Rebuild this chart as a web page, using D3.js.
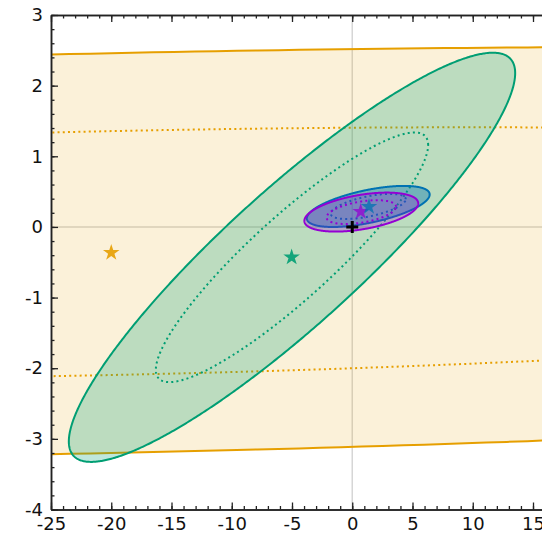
<!DOCTYPE html>
<html>
<head>
<meta charset="utf-8">
<script src="https://cdn.jsdelivr.net/npm/d3@7"></script>
<style>
  html, body { margin: 0; padding: 0; background: #fff; }
  svg { display: block; }
  .tick text { font-family: "DejaVu Sans", sans-serif; font-size: 18px; fill: #111; }
</style>
</head>
<body>
<svg id="chart" width="542" height="536"></svg>
<script>
// Gaussian constraints in the (x, y) plane: centre, widths and correlation
const fitNames = ["A", "B", "C", "D"];
const fitColors = ["#E69F00", "#009E73", "#0072B2", "#9400D3"];
const fillAlpha = [0.15, 0.25, 0.4, 0.25];
const centerX = [-20.0, -5.0, 1.33, 0.75];
const centerY = [-0.37, -0.43, 0.29, 0.21];
const sigmaX = [80.0, 7.45, 2.05, 1.90];
const sigmaY = [1.174, 1.165, 0.117, 0.111];
const corr = [0.245, 0.90, 0.58, 0.45];

// best-fit points (stars)
const bestX = [-20.0, -5.03, 1.39, 0.70];
const bestY = [-0.365, -0.43, 0.286, 0.215];

// reference point (+)
const refX = [0];
const refY = [0];

// delta chi^2 levels for 2 parameters: 68% (dotted) and 95% (solid)
const levels68 = 2.30;
const levels95 = 6.18;

// axis ticks
const xMajor = [-25, -20, -15, -10, -5, 0, 5, 10, 15];
const yMajor = [-4, -3, -2, -1, 0, 1, 2, 3];
const xMinor = d3.range(-25, 16.01, 1);
const yMinor = d3.range(-4, 3.001, 0.2).map(v => +v.toFixed(2));

const svg = d3.select("#chart");
const mLeft = 51, mTop = 15, mBottom = 509.5;
const pxPerX = 12.05;
const x = d3.scaleLinear().domain([-25, 16]).range([mLeft, mLeft + 41 * pxPerX]);
const y = d3.scaleLinear().domain([-4, 3]).range([mBottom, mTop]);

svg.append("defs").append("clipPath").attr("id", "plotClip")
  .append("rect")
  .attr("x", x(-25)).attr("y", y(3))
  .attr("width", x(16) - x(-25)).attr("height", y(-4) - y(3));

const plot = svg.append("g").attr("clip-path", "url(#plotClip)");

// zero lines
plot.append("line")
  .attr("x1", x(0)).attr("x2", x(0)).attr("y1", y(-4)).attr("y2", y(3))
  .attr("stroke", "#d6d6d6").attr("stroke-width", 1.5);
plot.append("line")
  .attr("x1", x(-25)).attr("x2", x(16)).attr("y1", y(0)).attr("y2", y(0))
  .attr("stroke", "#d6d6d6").attr("stroke-width", 1.5);

// contour of a correlated 2D Gaussian at a given delta chi^2
function ellipsePoints(i, dchi2) {
  const k = Math.sqrt(dchi2);
  const s = Math.sqrt(1 - corr[i] * corr[i]);
  return d3.range(0, 721).map(j => {
    const t = j / 720 * 2 * Math.PI;
    const c = Math.cos(t), sn = Math.sin(t);
    return [centerX[i] + k * sigmaX[i] * c,
            centerY[i] + k * sigmaY[i] * (corr[i] * c + s * sn)];
  });
}
const line = d3.line().x(d => x(d[0])).y(d => y(d[1])).curve(d3.curveLinearClosed);

fitNames.forEach((name, i) => {
  const g = plot.append("g").attr("class", "fit fit-" + name);
  g.append("path")
    .attr("d", line(ellipsePoints(i, levels95)))
    .attr("fill", fitColors[i]).attr("fill-opacity", fillAlpha[i])
    .attr("stroke", fitColors[i]).attr("stroke-width", 2);
  g.append("path")
    .attr("d", line(ellipsePoints(i, levels68)))
    .attr("fill", "none")
    .attr("stroke", fitColors[i]).attr("stroke-width", 2)
    .attr("stroke-dasharray", "2,3.2");
});

// reference cross
plot.selectAll("path.ref").data(refX).join("path")
  .attr("class", "ref")
  .attr("d", (d, i) => {
    const cx = x(d), cy = y(refY[i]), r = 6;
    return `M${cx - r},${cy}H${cx + r}M${cx},${cy - r}V${cy + r}`;
  })
  .attr("stroke", "#000").attr("stroke-width", 3);

// best-fit stars (purple under blue)
const starOrder = [0, 1, 3, 2];
plot.selectAll("path.star").data(starOrder).join("path")
  .attr("class", "star")
  .attr("transform", i => `translate(${x(bestX[i])},${y(bestY[i])})`)
  .attr("d", d3.symbol(d3.symbolStar, 85))
  .attr("fill", i => fitColors[i])
  .attr("fill-opacity", i => i >= 2 ? 0.75 : 0.9);

// axes with inward ticks
const fmt = d => String(d);
function styleAxis(g) {
  g.select(".domain").attr("stroke", "#222").attr("stroke-width", 1.5);
  g.selectAll(".tick line").attr("stroke", "#222").attr("stroke-width", 1.3);
}
const xb = svg.append("g").attr("transform", `translate(0,${mBottom})`)
  .call(d3.axisBottom(x).tickValues(xMajor).tickSize(-7).tickSizeOuter(0).tickPadding(8).tickFormat(fmt));
styleAxis(xb);
const xbm = svg.append("g").attr("transform", `translate(0,${mBottom})`)
  .call(d3.axisBottom(x).tickValues(xMinor).tickSize(-3.5).tickSizeOuter(0).tickFormat(""));
styleAxis(xbm);
const xt = svg.append("g").attr("transform", `translate(0,${mTop})`)
  .call(d3.axisTop(x).tickValues(xMajor).tickSize(-7).tickSizeOuter(0).tickFormat(""));
styleAxis(xt);
const xtm = svg.append("g").attr("transform", `translate(0,${mTop})`)
  .call(d3.axisTop(x).tickValues(xMinor).tickSize(-3.5).tickSizeOuter(0).tickFormat(""));
styleAxis(xtm);
const yl = svg.append("g").attr("transform", `translate(${mLeft},0)`)
  .call(d3.axisLeft(y).tickValues(yMajor).tickSize(-7).tickSizeOuter(0).tickPadding(8).tickFormat(fmt));
styleAxis(yl);
const ylm = svg.append("g").attr("transform", `translate(${mLeft},0)`)
  .call(d3.axisLeft(y).tickValues(yMinor).tickSize(-3.5).tickSizeOuter(0).tickFormat(""));
styleAxis(ylm);
</script>
</body>
</html>
